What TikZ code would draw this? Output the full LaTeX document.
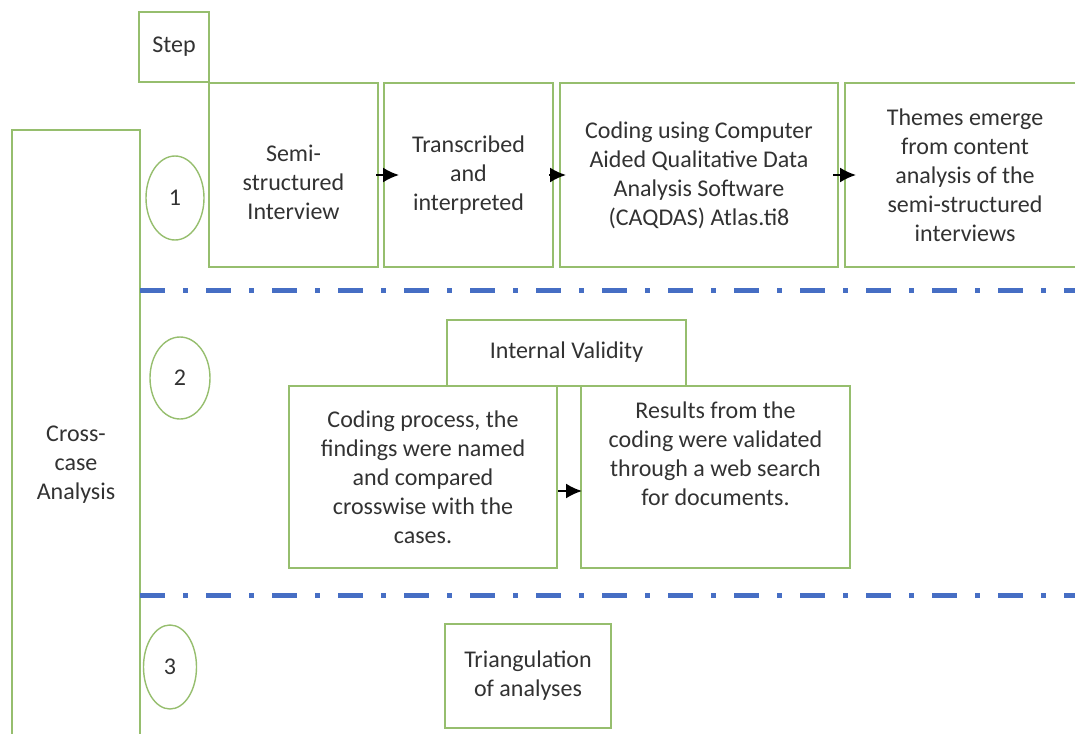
\documentclass[tikz,border=0pt]{standalone}
\usepackage{fontspec}
\setmainfont{Carlito}
\usetikzlibrary{shapes.geometric,arrows.meta}
\definecolor{boxgreen}{RGB}{150,190,110}
\definecolor{lineblue}{RGB}{70,110,196}
\definecolor{txtgray}{RGB}{50,50,50}
\begin{document}
\begin{tikzpicture}[x=0.5pt,y=-0.5pt,font=\fontsize{12}{14.5}\selectfont,
  box/.style={draw=boxgreen,line width=1pt,inner sep=0pt,align=center,text=txtgray},
  num/.style={draw=boxgreen,ellipse,line width=0.7pt,inner sep=0pt,text=txtgray},
  arr/.style={-{Latex[length=8pt,width=7.5pt]},line width=1pt},
  sepline/.style={lineblue,line width=2.5pt,dash pattern=on 12.5pt off 9pt on 2.5pt off 9pt}]
  \useasboundingbox (0,0) rectangle (1075,733);
  \clip (0,0) rectangle (1075,733);
  % frame and header
  \node[box,minimum width=64pt,minimum height=335pt] (cross) at (76,465) {Cross-\\case\\Analysis};
  \node[box,minimum width=35pt,minimum height=35pt] (step) at (174,47) {Step};
  % step 1
  \node[num,minimum width=29pt,minimum height=42pt] (n1) at (175,198) {1};
  \node[box,minimum width=84.5pt,minimum height=92pt,text height=45pt] (semi) at (293.5,175) {Semi-\\structured\\Interview};
  \node[box,minimum width=84.5pt,minimum height=92pt] (trans) at (468.5,175) {Transcribed\\and\\interpreted};
  \node[box,minimum width=139pt,minimum height=92pt] (caq) at (699,175) {Coding using Computer\\Aided Qualitative Data\\Analysis Software\\(CAQDAS) Atlas.ti8};
  \node[box,minimum width=120pt,minimum height=92pt] (themes) at (965,175) {Themes emerge\\from content\\analysis of the\\semi-structured\\interviews};
  \draw[arr] ([xshift=-1.5pt]semi.east) -- ([xshift=8pt]trans.west);
  \draw[arr] ([xshift=-2.5pt]trans.east) -- ([xshift=3.5pt]caq.west);
  \draw[arr] ([xshift=-3pt]caq.east) -- ([xshift=6pt]themes.west);
  \draw[sepline] (140,290) -- (1075,290);
  % step 2
  \node[num,minimum width=30pt,minimum height=41pt] (n2) at (180,378) {2};
  \node[box,minimum width=119.5pt,minimum height=33pt] (valid) at (566.5,352.5) {Internal Validity};
  \node[box,minimum width=134pt,minimum height=91pt] (cross2) at (423,477) {Coding process, the\\findings were named\\and compared\\crosswise with the\\cases.};
  \node[box,minimum width=134.5pt,minimum height=91pt,text depth=23pt] (res) at (715.5,477) {Results from the\\coding were validated\\through a web search\\for documents.};
  \draw[arr] ([yshift=-7pt]cross2.east) -- ([yshift=-7pt,xshift=1pt]res.west);
  \draw[sepline] (140,595) -- (1075,595);
  % step 3
  \node[num,minimum width=26.5pt,minimum height=42pt] (n3) at (170,667) {3};
  \node[box,minimum width=83pt,minimum height=52pt] (tri) at (528,676) {Triangulation\\of analyses};
\end{tikzpicture}
\end{document}
